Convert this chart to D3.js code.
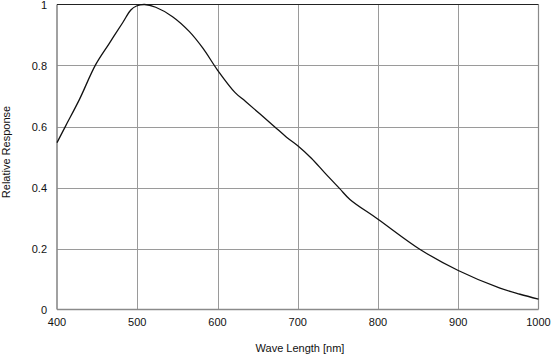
<!DOCTYPE html>
<html>
<head>
<meta charset="utf-8">
<script src="https://cdn.jsdelivr.net/npm/d3@7"></script>
<style>
  html, body { margin: 0; padding: 0; background: #fff; }
  svg { display: block; }
  text { font-family: "Liberation Sans", Arial, sans-serif; font-size: 11px; fill: #111; }
</style>
</head>
<body>
<svg id="chart" width="551" height="356"></svg>
<script>
const wavelengths = [400, 411, 428, 448, 465, 482, 492, 499, 509, 523, 544, 565, 582, 600, 622, 635, 670, 686, 700, 717, 734, 752, 765, 800, 853, 900, 952, 977, 1000];
const response    = [0.547, 0.603, 0.689, 0.802, 0.872, 0.941, 0.982, 0.995, 1.0, 0.991, 0.960, 0.911, 0.856, 0.785, 0.711, 0.682, 0.602, 0.565, 0.537, 0.496, 0.447, 0.397, 0.361, 0.296, 0.196, 0.128, 0.070, 0.050, 0.034];
const xTicks = [400, 500, 600, 700, 800, 900, 1000];
const yTicks = [0, 0.2, 0.4, 0.6, 0.8, 1];
const xTitle = "Wave Length [nm]";
const yTitle = "Relative Response";

const svg = d3.select("#chart");
const x = d3.scaleLinear().domain([400, 1000]).range([57, 538.5]);
const y = d3.scaleLinear().domain([0, 1]).range([309.5, 4.5]);

// grid
svg.append("g").selectAll("line").data(xTicks.slice(1, -1)).join("line")
  .attr("x1", d => Math.round(x(d)) + 0.5).attr("x2", d => Math.round(x(d)) + 0.5)
  .attr("y1", y(1)).attr("y2", y(0))
  .attr("stroke", "#9a9a9a").attr("stroke-width", 1);
svg.append("g").selectAll("line").data(yTicks.slice(1, -1)).join("line")
  .attr("x1", x(400)).attr("x2", x(1000))
  .attr("y1", d => Math.round(y(d)) + 0.5).attr("y2", d => Math.round(y(d)) + 0.5)
  .attr("stroke", "#9a9a9a").attr("stroke-width", 1);

// frame
svg.append("line").attr("x1", x(400)).attr("x2", x(400)).attr("y1", y(1)).attr("y2", y(0))
  .attr("stroke", "#8a8a8a").attr("stroke-width", 1.6);
svg.append("line").attr("x1", x(1000)).attr("x2", x(1000)).attr("y1", y(1)).attr("y2", y(0))
  .attr("stroke", "#8a8a8a").attr("stroke-width", 1.2);
svg.append("line").attr("x1", x(400)).attr("x2", x(1000)).attr("y1", y(0)).attr("y2", y(0))
  .attr("stroke", "#8a8a8a").attr("stroke-width", 1.4);
svg.append("line").attr("x1", x(400)).attr("x2", x(1000)).attr("y1", y(1)).attr("y2", y(1))
  .attr("stroke", "#222").attr("stroke-width", 1.2);

// curve
const pts = wavelengths.map((w, i) => [w, response[i]]);
svg.append("path").datum(pts)
  .attr("fill", "none").attr("stroke", "#111").attr("stroke-width", 1.3)
  .attr("d", d3.line().x(d => x(d[0])).y(d => y(d[1])).curve(d3.curveCatmullRom.alpha(0.5)));

// tick labels
svg.append("g").selectAll("text").data(xTicks).join("text")
  .attr("x", d => x(d)).attr("y", 325.5).attr("text-anchor", "middle")
  .text(d => d);
svg.append("g").selectAll("text").data(yTicks).join("text")
  .attr("x", 47).attr("y", d => y(d) + 4).attr("text-anchor", "end")
  .text(d => d3.format("~g")(d));

// titles
svg.append("text").attr("x", 300).attr("y", 352).attr("text-anchor", "middle").text(xTitle);
svg.append("text").attr("transform", "translate(10,152) rotate(-90)")
  .attr("text-anchor", "middle").text(yTitle);
</script>
</body>
</html>
